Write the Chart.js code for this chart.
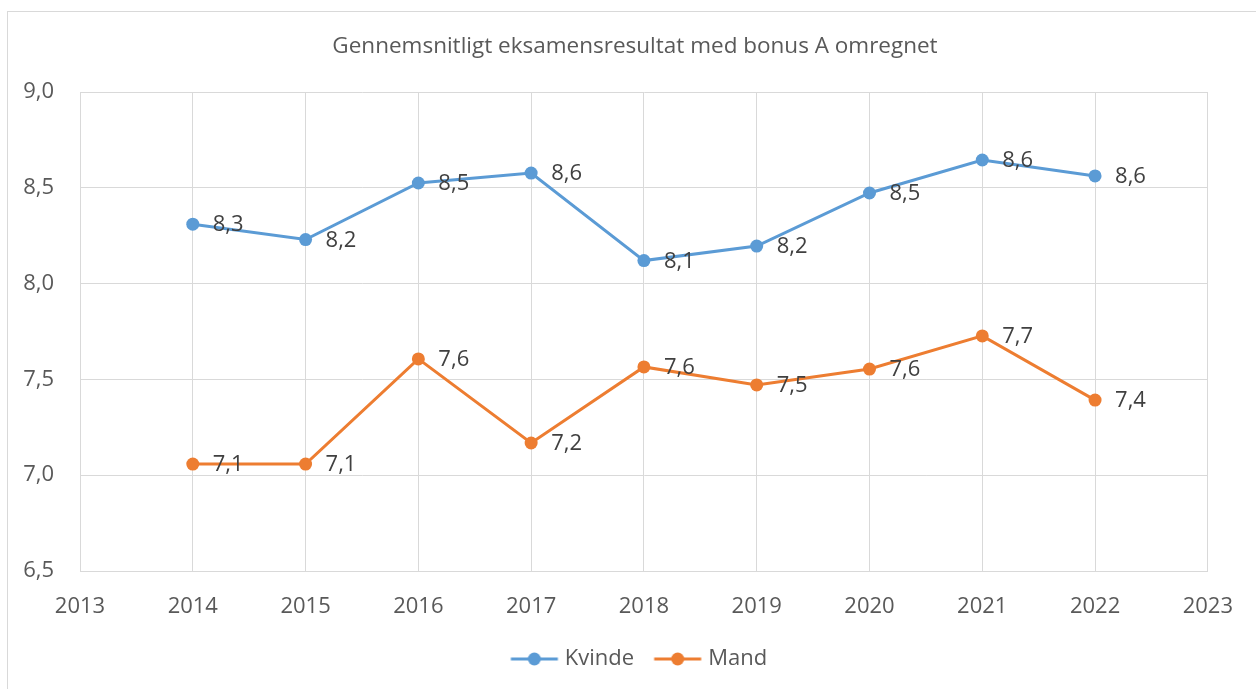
<!DOCTYPE html>
<html>
<head>
<meta charset="utf-8">
<script src="https://cdn.jsdelivr.net/npm/chart.js@4"></script>
<style>
  body { margin: 0; background: #fff; overflow: hidden; }
  .frame { position: absolute; left: 7px; top: 11px; width: 1300px; height: 700px; border: 1px solid #d9d9d9; }
  #chart { position: absolute; left: 0; top: 0; }
</style>
</head>
<body>
<div class="frame"></div>
<canvas id="chart" width="1256" height="689"></canvas>
<script>
const TITLE = "Gennemsnitligt eksamensresultat med bonus A omregnet";
const YEARS = [2014, 2015, 2016, 2017, 2018, 2019, 2020, 2021, 2022];
const KVINDE = [8.31, 8.23, 8.525, 8.577, 8.12, 8.196, 8.473, 8.645, 8.562];
const MAND = [7.058, 7.058, 7.607, 7.168, 7.565, 7.471, 7.554, 7.727, 7.392];
const X_MIN = 2013;
const X_MAX = 2023;
const Y_MIN = 6.5;
const Y_MAX = 9.0;

const BLUE = "#5b9bd5";
const ORANGE = "#ed7d31";
const TEXT = "#595959";
const GRID = "#d9d9d9";
const FONT = "'Open Sans', sans-serif";

function formatComma(value) {
  return value.toFixed(1).replace(".", ",");
}

// legend marker: line with a dot, offset inside a wider transparent canvas
function makeLegendIcon(color) {
  const c = document.createElement("canvas");
  c.width = 80;
  c.height = 16;
  const ctx = c.getContext("2d");
  ctx.strokeStyle = color;
  ctx.lineWidth = 3;
  ctx.beginPath();
  ctx.moveTo(22.5, 8);
  ctx.lineTo(69.5, 8);
  ctx.stroke();
  ctx.fillStyle = color;
  ctx.beginPath();
  ctx.arc(46, 8, 6.5, 0, Math.PI * 2);
  ctx.fill();
  return c;
}

function createPointLabelPlugin() {
  return {
    id: "point-labels",
    afterDatasetsDraw(chart) {
      const { ctx } = chart;
      ctx.save();
      ctx.font = `22px ${FONT}`;
      ctx.fillStyle = "#404040";
      ctx.textAlign = "left";
      ctx.textBaseline = "middle";
      chart.data.datasets.forEach((dataset, datasetIndex) => {
        const meta = chart.getDatasetMeta(datasetIndex);
        meta.data.forEach((element, index) => {
          const value = dataset.data[index].y;
          ctx.fillText(formatComma(value), element.x + 20, element.y + 1);
        });
      });
      ctx.restore();
    },
  };
}

const series = [
  { label: "Kvinde", values: KVINDE, color: BLUE },
  { label: "Mand", values: MAND, color: ORANGE },
];

new Chart(document.getElementById("chart"), {
  type: "line",
  data: {
    datasets: series.map((s) => ({
      label: s.label,
      data: YEARS.map((year, i) => ({ x: year, y: s.values[i] })),
      borderColor: s.color,
      backgroundColor: s.color,
      borderWidth: 3,
      pointRadius: 6.5,
      pointHoverRadius: 6.5,
      pointBorderWidth: 0,
      tension: 0,
    })),
  },
  options: {
    responsive: false,
    animation: false,
    layout: { padding: { left: 14, right: 0, top: 0, bottom: 9 } },
    plugins: {
      tooltip: { enabled: false },
      title: {
        display: true,
        text: TITLE,
        color: TEXT,
        font: { family: FONT, size: 22.5, weight: "normal" },
        padding: { top: 33.5, bottom: 31.5 },
      },
      legend: {
        position: "bottom",
        labels: {
          color: TEXT,
          font: { family: FONT, size: 22 },
          usePointStyle: true,
          pointStyleWidth: 51,
          padding: 12,
          generateLabels(chart) {
            return chart.data.datasets.map((ds, i) => ({
              text: ds.label,
              fillStyle: ds.borderColor,
              strokeStyle: ds.borderColor,
              lineWidth: 0,
              pointStyle: makeLegendIcon(ds.borderColor),
              fontColor: TEXT,
              hidden: false,
              datasetIndex: i,
            }));
          },
        },
      },
    },
    scales: {
      x: {
        type: "linear",
        min: X_MIN,
        max: X_MAX,
        grid: { color: GRID, drawTicks: false },
        border: { color: GRID },
        ticks: {
          stepSize: 1,
          color: TEXT,
          padding: 23,
          font: { family: FONT, size: 22 },
          callback: (v) => String(v),
        },
        afterFit(scale) { scale.height = 65; },
      },
      y: {
        min: Y_MIN,
        max: Y_MAX,
        grid: { color: GRID, drawTicks: false },
        border: { color: GRID },
        ticks: {
          stepSize: 0.5,
          color: TEXT,
          padding: 26,
          font: { family: FONT, size: 22 },
          callback: (v) => formatComma(v),
        },
        afterFit(scale) { scale.width = 66; },
      },
      // empty spacer axis so the plot ends at the same right edge as the reference
      spacer: {
        position: "right",
        grid: { display: false },
        border: { display: false },
        ticks: { display: false },
        afterFit(scale) { scale.width = 47; },
      },
    },
  },
  plugins: [createPointLabelPlugin()],
});
</script>
</body>
</html>
